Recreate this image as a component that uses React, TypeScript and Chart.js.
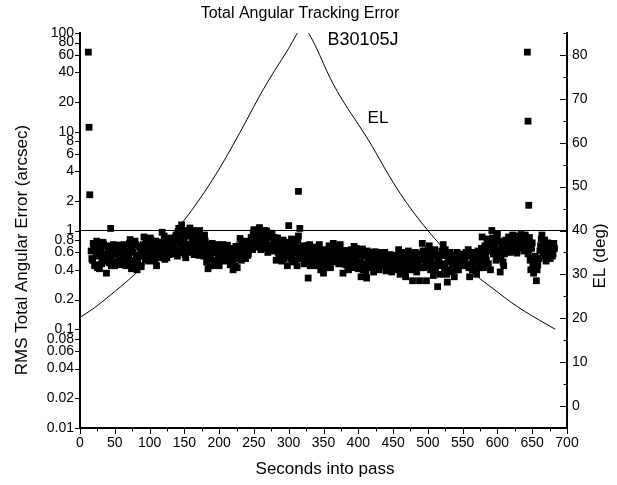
import React, { useEffect, useRef } from "react";
import { Chart, registerables } from "chart.js";

Chart.register(...registerables);

// ---------- data ----------
// RMS total angular error, sampled every 2 s (even seconds from 16 s, odd seconds from 17 s)
const SAMPLE_STEP = 2;
const EVEN_START = 16;
const ERR_EVEN = [
  0.62, 0.50, 0.70, 0.45, 0.78, 0.55, 0.41, 0.66, 0.48, 0.72,
  0.58, 0.37, 0.66, 0.47, 1.05, 0.52, 0.72, 0.44, 0.60, 0.68,
  0.50, 0.71, 0.45, 0.62, 0.55, 0.44, 0.68, 0.52, 0.81, 0.41,
  0.60, 0.46, 0.72, 0.40, 0.55, 0.66, 0.43, 0.58, 0.86, 0.50,
  0.64, 0.74, 0.49, 0.80, 0.56, 0.68, 0.50, 0.44, 0.62, 0.76,
  0.55, 0.96, 0.62, 0.51, 0.78, 0.68, 0.57, 0.84, 0.62, 0.72,
  0.66, 0.90, 0.55, 1.05, 0.75, 1.14, 0.60, 0.82, 0.53, 0.95,
  0.70, 1.06, 0.60, 0.85, 0.57, 0.95, 0.66, 0.78, 1.00, 0.58,
  0.72, 0.55, 0.78, 0.48, 0.41, 0.65, 0.52, 0.74, 0.44, 0.60,
  0.50, 0.72, 0.44, 0.62, 0.55, 0.68, 0.49, 0.58, 0.71, 0.52,
  0.45, 0.66, 0.40, 0.58, 0.69, 0.42, 0.55, 0.83, 0.50, 0.70,
  0.62, 0.52, 0.72, 0.58, 0.66, 0.85, 0.64, 1.02, 0.70, 0.90,
  0.76, 1.07, 0.64, 0.95, 0.82, 0.70, 0.99, 0.60, 0.85, 0.66,
  0.92, 0.62, 0.78, 0.50, 0.84, 0.56, 0.70, 0.49, 0.80, 0.60,
  0.55, 0.44, 1.12, 0.66, 0.82, 0.48, 0.60, 0.75, 0.44, 0.88,
  1.05, 0.52, 0.70, 0.46, 0.62, 0.55, 0.33, 0.72, 0.48, 0.60,
  0.52, 0.68, 0.44, 0.58, 0.72, 0.40, 0.50, 0.37, 0.64, 0.46,
  0.56, 0.70, 0.42, 0.62, 0.74, 0.48, 0.58, 0.66, 0.46, 0.72,
  0.52, 0.37, 0.63, 0.45, 0.58, 0.40, 0.55, 0.64, 0.42, 0.69,
  0.50, 0.62, 0.41, 0.56, 0.34, 0.65, 0.46, 0.58, 0.33, 0.52,
  0.60, 0.42, 0.55, 0.38, 0.61, 0.48, 0.52, 0.40, 0.58, 0.45,
  0.50, 0.60, 0.39, 0.54, 0.46, 0.57, 0.38, 0.52, 0.44, 0.56,
  0.47, 0.64, 0.36, 0.55, 0.42, 0.60, 0.34, 0.50, 0.62, 0.40,
  0.55, 0.31, 0.48, 0.60, 0.38, 0.45, 0.31, 0.56, 0.74, 0.42,
  0.62, 0.31, 0.50, 0.70, 0.40, 0.58, 0.35, 0.64, 0.45, 0.27,
  0.52, 0.36, 0.62, 0.72, 0.42, 0.56, 0.30, 0.48, 0.60, 0.38,
  0.55, 0.34, 0.46, 0.60, 0.40, 0.52, 0.57, 0.44, 0.50, 0.56,
  0.45, 0.64, 0.34, 0.55, 0.40, 0.60, 0.48, 0.36, 0.62, 0.42,
  0.55, 0.86, 0.42, 0.70, 0.50, 0.78, 0.62, 0.40, 1.00, 0.58,
  0.75, 0.50, 0.92, 0.64, 0.38, 0.72, 0.48, 0.58, 0.80, 0.66,
  0.86, 0.60, 0.78, 0.90, 0.65, 0.82, 0.59, 0.88, 0.72, 0.91,
  0.80, 0.62, 0.90, 0.70, 0.58, 0.85, 0.40, 0.75, 0.37, 0.55,
  0.31, 0.45, 0.52, 0.70, 0.90, 0.55, 0.80, 0.49, 0.75, 0.60,
  0.52, 0.72, 0.58, 0.66,
];
const ODD_START = 17;
const ERR_ODD = [
  0.52, 0.74, 0.44, 0.60, 0.42, 0.68, 0.58, 0.46, 0.76, 0.54,
  0.50, 0.70, 0.55, 0.62, 0.44, 0.66, 0.48, 0.58, 0.71, 0.46,
  0.64, 0.47, 0.58, 0.72, 0.48, 0.60, 0.52, 0.74, 0.46, 0.66,
  0.50, 0.78, 0.56, 0.48, 0.70, 0.44, 0.62, 0.72, 0.55, 0.80,
  0.56, 0.52, 0.84, 0.60, 0.70, 0.50, 0.78, 0.58, 0.53, 0.66,
  0.70, 0.58, 0.88, 0.74, 0.53, 0.62, 0.76, 0.60, 0.82, 0.58,
  0.78, 0.58, 0.98, 0.64, 0.86, 0.68, 1.00, 0.57, 0.72, 0.62,
  0.88, 0.64, 0.75, 1.00, 0.68, 0.62, 0.90, 0.56, 0.70, 0.84,
  0.62, 0.90, 0.58, 0.68, 0.56, 0.44, 0.72, 0.60, 0.50, 0.68,
  0.60, 0.55, 0.66, 0.50, 0.72, 0.58, 0.62, 0.52, 0.64, 0.58,
  0.55, 0.48, 0.62, 0.44, 0.52, 0.64, 0.70, 0.60, 0.76, 0.56,
  0.78, 0.60, 0.56, 0.68, 0.74, 0.66, 0.95, 0.76, 0.86, 0.68,
  0.92, 0.68, 0.86, 0.72, 1.00, 0.78, 0.66, 0.90, 0.72, 0.94,
  0.70, 0.85, 0.66, 0.72, 0.60, 0.76, 0.55, 0.64, 0.52, 0.72,
  0.70, 0.60, 0.76, 0.52, 0.58, 0.72, 0.50, 0.66, 0.80, 0.58,
  0.66, 0.60, 0.56, 0.66, 0.50, 0.70, 0.58, 0.44, 0.66, 0.54,
  0.62, 0.48, 0.60, 0.68, 0.50, 0.62, 0.45, 0.56, 0.42, 0.60,
  0.48, 0.62, 0.56, 0.50, 0.66, 0.60, 0.52, 0.70, 0.62, 0.55,
  0.60, 0.46, 0.52, 0.60, 0.42, 0.62, 0.48, 0.52, 0.58, 0.47,
  0.66, 0.45, 0.58, 0.48, 0.60, 0.40, 0.55, 0.38, 0.62, 0.44,
  0.50, 0.56, 0.46, 0.58, 0.44, 0.54, 0.42, 0.60, 0.48, 0.52,
  0.44, 0.52, 0.48, 0.42, 0.56, 0.40, 0.50, 0.55, 0.40, 0.48,
  0.55, 0.40, 0.52, 0.46, 0.58, 0.38, 0.56, 0.44, 0.50, 0.58,
  0.44, 0.52, 0.40, 0.54, 0.48, 0.58, 0.42, 0.50, 0.62, 0.52,
  0.44, 0.56, 0.64, 0.46, 0.52, 0.44, 0.58, 0.40, 0.55, 0.48,
  0.44, 0.56, 0.46, 0.58, 0.64, 0.36, 0.52, 0.40, 0.54, 0.46,
  0.48, 0.56, 0.40, 0.52, 0.58, 0.46, 0.50, 0.52, 0.47, 0.60,
  0.55, 0.42, 0.58, 0.46, 0.52, 0.40, 0.56, 0.50, 0.45, 0.58,
  0.66, 0.48, 0.62, 0.58, 0.82, 0.46, 0.74, 0.66, 0.84, 0.70,
  0.62, 0.86, 0.56, 0.78, 0.52, 0.62, 0.44, 0.70, 0.64, 0.76,
  0.70, 0.78, 0.64, 0.74, 0.84, 0.62, 0.76, 0.68, 0.82, 0.66,
  0.70, 0.86, 0.66, 0.78, 0.64, 0.50, 0.66, 0.46, 0.52, 0.44,
  0.40, 0.52, 0.62, 0.82, 0.64, 0.72, 0.58, 0.66, 0.52, 0.70,
  0.62, 0.55, 0.74,
];

// isolated large-error points
const OUTLIER_T = [12, 13, 14, 314, 643, 644, 645];
const OUTLIER_V = [64, 11.1, 2.3, 2.49, 64, 12.8, 1.8];

// elevation of the pass (deg)
const EL_T = [0, 20, 40, 60, 80, 100, 120, 140, 160, 180, 200, 220, 240, 260, 280, 300, 310, 320, 330, 340, 360, 380, 400, 420, 440, 460, 480, 500, 520, 540, 560, 580, 600, 620, 640, 660, 683];
const EL_V = [20.2, 22.3, 24.8, 27.4, 30.2, 33.3, 36.7, 40.4, 44.5, 49.0, 54.0, 59.5, 65.3, 71.2, 76.5, 81.5, 84.3, 86.8, 84.6, 81.5, 74.6, 69.0, 64.2, 59.2, 53.6, 48.5, 44.0, 40.0, 36.4, 33.5, 30.9, 28.4, 26.0, 23.6, 21.5, 19.6, 17.5];

// reference level (arcsec)
const REF_T = [0, 700];
const REF_V = [1, 1];

// ticks
const X_TICKS = [0, 50, 100, 150, 200, 250, 300, 350, 400, 450, 500, 550, 600, 650, 700];
const X_MINOR = [25, 75, 125, 175, 225, 275, 325, 375, 425, 475, 525, 575, 625, 675];
const LEFT_TICKS = [0.01, 0.02, 0.04, 0.06, 0.08, 0.1, 0.2, 0.4, 0.6, 0.8, 1, 2, 4, 6, 8, 10, 20, 40, 60, 80, 100];
const LEFT_TICK_LABELS = ["0.01", "0.02", "0.04", "0.06", "0.08", "0.1", "0.2", "0.4", "0.6", "0.8", "1", "2", "4", "6", "8", "10", "20", "40", "60", "80", "100"];
const RIGHT_TICKS = [0, 10, 20, 30, 40, 50, 60, 70, 80];
const RIGHT_MINOR = [-5, 5, 15, 25, 35, 45, 55, 65, 75, 85];

const TITLE = "Total Angular Tracking Error";
const X_TITLE = "Seconds into pass";
const Y_TITLE = "RMS Total Angular Error (arcsec)";
const Y2_TITLE = "EL (deg)";
const SAT_LABEL = "B30105J";
const EL_LABEL = "EL";

const FONT = "'Liberation Sans', Arial, sans-serif";

const errPoints = [
  ...ERR_EVEN.map((v, i) => ({ x: EVEN_START + i * SAMPLE_STEP, y: v })),
  ...ERR_ODD.map((v, i) => ({ x: ODD_START + i * SAMPLE_STEP, y: v })),
];
const outPoints = OUTLIER_T.map((t, i) => ({ x: t, y: OUTLIER_V[i] }));
const elPoints = EL_T.map((t, i) => ({ x: t, y: EL_V[i] }));
const refPoints = REF_T.map((t, i) => ({ x: t, y: REF_V[i] }));

const decorPlugin = {
  id: "decor",
  afterDraw(chart: any) {
    const ctx = chart.ctx as CanvasRenderingContext2D;
    const area = chart.chartArea;
    const xs = chart.scales.x;
    const yl = chart.scales.y;
    const yr = chart.scales.yEl;
    ctx.save();
    ctx.strokeStyle = "#000";
    ctx.lineWidth = 1;
    ctx.beginPath();
    X_TICKS.forEach((v) => {
      const p = Math.round(xs.getPixelForValue(v)) + 0.5;
      ctx.moveTo(p, area.bottom);
      ctx.lineTo(p, area.bottom + 6);
    });
    X_MINOR.forEach((v) => {
      const p = Math.round(xs.getPixelForValue(v)) + 0.5;
      ctx.moveTo(p, area.bottom);
      ctx.lineTo(p, area.bottom + 3.5);
    });
    LEFT_TICKS.forEach((v) => {
      const p = Math.round(yl.getPixelForValue(v)) + 0.5;
      ctx.moveTo(area.left - 5, p);
      ctx.lineTo(area.left, p);
    });
    RIGHT_TICKS.forEach((v) => {
      const p = Math.round(yr.getPixelForValue(v)) + 0.5;
      ctx.moveTo(area.right, p);
      ctx.lineTo(area.right - 7, p);
    });
    RIGHT_MINOR.forEach((v) => {
      const p = Math.round(yr.getPixelForValue(v)) + 0.5;
      ctx.moveTo(area.right, p);
      ctx.lineTo(area.right - 3.5, p);
    });
    ctx.stroke();

    ctx.fillStyle = "#000";
    ctx.textAlign = "center";
    ctx.textBaseline = "middle";
    ctx.font = `16px ${FONT}`;
    ctx.fillText(TITLE, 300, 14);
    ctx.font = `18px ${FONT}`;
    ctx.fillText(SAT_LABEL, 363, 40);
    ctx.font = `17px ${FONT}`;
    ctx.fillText(EL_LABEL, 378, 118);
    ctx.fillText(X_TITLE, 325, 469);
    ctx.save();
    ctx.translate(22, 250);
    ctx.rotate(-Math.PI / 2);
    ctx.fillText(Y_TITLE, 0, 0);
    ctx.restore();
    ctx.save();
    ctx.translate(600, 256);
    ctx.rotate(-Math.PI / 2);
    ctx.fillText(Y2_TITLE, 0, 0);
    ctx.restore();
    ctx.restore();
  },
};

export default function App() {
  const ref = useRef<HTMLCanvasElement>(null);
  useEffect(() => {
    const tickFont = { family: FONT, size: 14 };
    const chart = new Chart(ref.current as HTMLCanvasElement, {
      type: "scatter",
      data: {
        datasets: [
          {
            data: [...outPoints, ...errPoints],
            yAxisID: "y",
            pointStyle: "rect",
            pointRadius: 4.8,
            pointBorderWidth: 0,
            backgroundColor: "#000",
            borderColor: "#000",
            showLine: false,
          } as any,
          {
            data: refPoints,
            yAxisID: "y",
            showLine: true,
            pointRadius: 0,
            borderColor: "#000",
            borderWidth: 1,
          } as any,
          {
            data: elPoints,
            yAxisID: "yEl",
            showLine: true,
            pointRadius: 0,
            borderColor: "#000",
            borderWidth: 1,
            cubicInterpolationMode: "monotone",
          } as any,
        ],
      },
      options: {
        animation: false,
        responsive: false,
        layout: { padding: { top: 33, left: 0, right: 0, bottom: 0 } },
        plugins: {
          legend: { display: false },
          tooltip: { enabled: false },
          title: { display: false },
        },
        scales: {
          x: {
            type: "linear",
            position: "bottom",
            min: 0,
            max: 700,
            afterBuildTicks: (s: any) => {
              s.ticks = X_TICKS.map((v) => ({ value: v }));
            },
            afterFit: (s: any) => {
              s.height = 57;
            },
            grid: { display: true, drawOnChartArea: false, drawTicks: false },
            border: { display: true, color: "#000", width: 2 },
            ticks: {
              color: "#000",
              font: tickFont,
              padding: 7,
              maxRotation: 0,
              autoSkip: false,
              callback: (v: any) => String(v),
            },
          },
          y: {
            type: "logarithmic",
            position: "left",
            min: 0.01,
            max: 100,
            afterBuildTicks: (s: any) => {
              s.ticks = LEFT_TICKS.map((v) => ({ value: v }));
            },
            afterFit: (s: any) => {
              s.width = 80;
            },
            grid: { display: true, drawOnChartArea: false, drawTicks: false },
            border: { display: true, color: "#000", width: 2 },
            ticks: {
              color: "#000",
              font: tickFont,
              padding: 6,
              autoSkip: false,
              callback: (_v: any, i: number) => LEFT_TICK_LABELS[i],
            },
          },
          yEl: {
            type: "linear",
            position: "right",
            min: -5,
            max: 85,
            afterBuildTicks: (s: any) => {
              s.ticks = RIGHT_TICKS.map((v) => ({ value: v }));
            },
            afterFit: (s: any) => {
              s.width = 50;
            },
            grid: { display: true, drawOnChartArea: false, drawTicks: false },
            border: { display: true, color: "#000", width: 2 },
            ticks: {
              color: "#000",
              font: tickFont,
              padding: 5,
              autoSkip: false,
              callback: (v: any) => String(v),
            },
          },
        },
      } as any,
      plugins: [decorPlugin],
    });
    return () => chart.destroy();
  }, []);
  return (
    <div style={{ position: "absolute", left: 0, top: 0, width: 617, height: 485, background: "#fff" }}>
      <canvas ref={ref} width={617} height={485} style={{ display: "block", width: 617, height: 485 }} />
    </div>
  );
}
